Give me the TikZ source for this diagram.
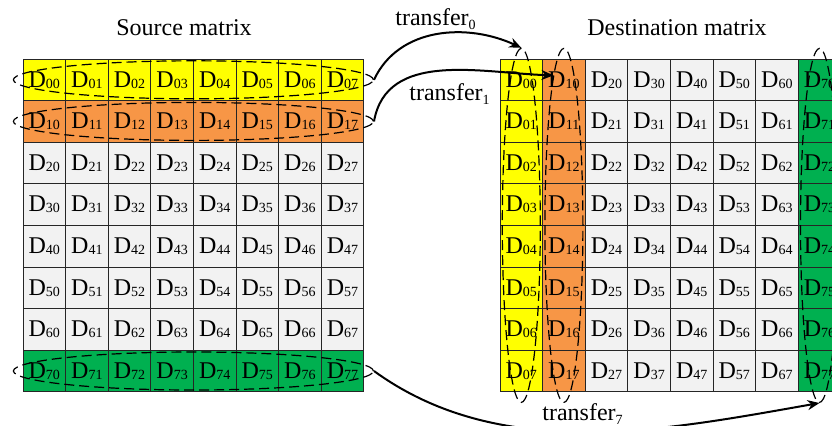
\documentclass[tikz,border=0pt]{standalone}
\usepackage{fontspec}
\setmainfont{Liberation Serif}
\usetikzlibrary{shapes.geometric, arrows.meta}
\definecolor{rowyellow}{HTML}{FFFF00}
\definecolor{roworange}{HTML}{F79646}
\definecolor{rowgreen}{HTML}{00B050}
\definecolor{rowgray}{HTML}{F2F2F2}
\newcommand{\subfont}{\fontsize{7}{8}\selectfont}
\newcommand{\dcell}[1]{D\raisebox{-0.5pt}{\subfont #1}}
\newcommand{\xfer}[1]{transfer\raisebox{-2pt}{\subfont #1}}
\tikzset{mat cell/.style={rectangle, draw=black!85, line width=0.5pt, minimum width=21.3pt, minimum height=20.8pt, inner sep=0pt, font=\fontsize{12}{14}\selectfont},
  row ring/.style={ellipse, draw=black, line width=0.6pt, dash pattern=on 5pt off 2.5pt, minimum width=180pt, minimum height=19pt, inner sep=0pt},
  col ring/.style={ellipse, draw=black, line width=0.6pt, dash pattern=on 5pt off 2.5pt, minimum width=19pt, minimum height=177pt, inner sep=0pt},
  label text/.style={anchor=base west, inner sep=0pt, font=\fontsize{12}{14}\selectfont},
  arrow/.style={-{Stealth[length=6pt, width=5pt]}, line width=1pt}
}

\begin{document}
\begin{tikzpicture}[x=0.5pt, y=0.5pt]
  \clip (0,0) rectangle (832,-425);
  % Titles
  \node[label text] (srctitle) at (116,-35) {Source matrix};
  \node[label text] (dsttitle) at (587,-35) {Destination matrix};
  % Source matrix (rows) and destination matrix (columns)
  \foreach \y/\clr in {0/rowyellow, 1/roworange, 2/rowgray, 3/rowgray, 4/rowgray, 5/rowgray, 6/rowgray, 7/rowgreen} {
    \foreach \x in {0,...,7} {
      \node[mat cell, fill=\clr] (s\y\x) at ({44.3+42.6*\x},{-79.8-41.6*\y}) {\dcell{\y\x}};
      \node[mat cell, fill=\clr] (d\y\x) at ({521.3+42.6*\y},{-79.8-41.6*\x}) {\dcell{\y\x}};
    }
  }
  % Rows picked out of the source
  \node[row ring] (r0) at (193.4,-79.8) {};
  \node[row ring] (r1) at (193.4,-121.4) {};
  \node[row ring] (r7) at (193.4,-371.0) {};
  % Columns they land in
  \node[col ring] (c0) at (521.3,-225.4) {};
  \node[col ring] (c1) at (563.9,-225.4) {};
  \node[col ring] (c7) at (819.5,-225.4) {};
  % Transfers
  \draw[arrow] (r0.east) to[out=65, in=155] (c0.north);
  \draw[arrow] (r1.east) to[out=80, in=178] (c1.94);
  \draw[arrow] (r7.east) to[out=-36, in=190, looseness=0.9] (c7.south);
  \node[label text] (t0) at (395,-25) {\xfer{0}};
  \node[label text] (t1) at (409,-100) {\xfer{1}};
  \node[label text, fill=white] (t7) at (542,-420) {\xfer{7}};
\end{tikzpicture}
\end{document}
